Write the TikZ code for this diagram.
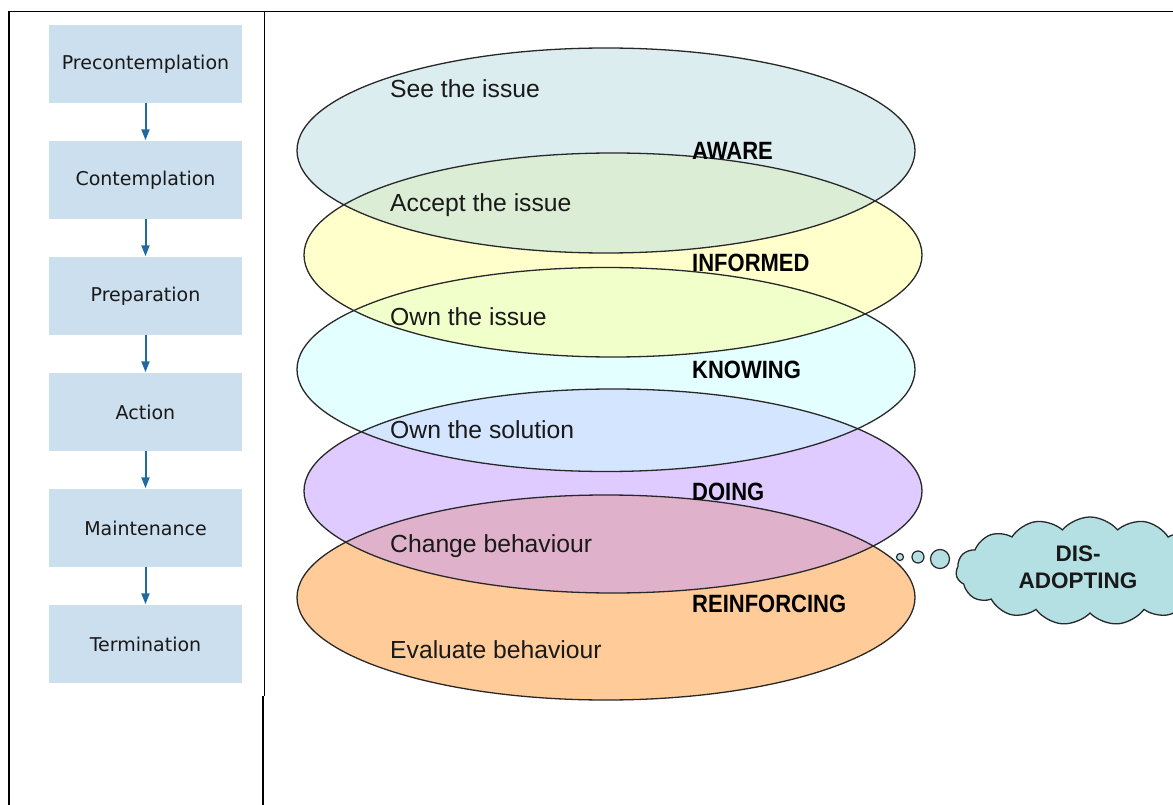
\documentclass[tikz,border=0pt]{standalone}
\usepackage{fontspec}
\setmainfont{Liberation Sans}
\newfontfamily\boxfont{DejaVu Sans}
\newfontfamily\phasefont[FakeStretch=0.88]{Liberation Sans}
\usetikzlibrary{shapes.symbols,arrows.meta}

\definecolor{stagefill}{RGB}{204,223,238}
\definecolor{flowblue}{RGB}{31,106,165}
\definecolor{rimgray}{RGB}{40,40,40}
\definecolor{awarefill}{RGB}{187,221,225}
\definecolor{informedfill}{RGB}{255,255,153}
\definecolor{knowingfill}{RGB}{203,255,255}
\definecolor{doingfill}{RGB}{193,153,255}
\definecolor{reinffill}{RGB}{255,153,51}
\definecolor{cloudfill}{RGB}{180,224,228}
\definecolor{inktext}{RGB}{25,25,25}

\tikzset{
  stagebox/.style={minimum width=193pt, minimum height=78pt, inner sep=0pt,
    fill=stagefill, text=inktext, font=\boxfont\fontsize{19}{22}\selectfont},
  flow/.style={draw=flowblue, line width=2pt,
    -{Triangle[length=11pt,width=8pt]}, shorten >=0.5pt},
  layerfill/.style={fill opacity=0.5},
  layerrim/.style={draw=rimgray, line width=1.3pt},
  steptext/.style={anchor=base west, inner sep=0pt, text=inktext,
    font=\fontsize{24.7}{28}\selectfont},
  phasetext/.style={anchor=base west, inner sep=0pt, text=black,
    font=\phasefont\bfseries\fontsize{25}{28}\selectfont},
  bubble/.style={draw=rimgray, line width=1.2pt, fill=cloudfill},
  frame/.style={draw=black}
}

\begin{document}
\begin{tikzpicture}[x=1pt,y=-1pt]
\useasboundingbox (0,0) rectangle (1173,805);
\fill[white] (0,0) rectangle (1173,805);

\begin{scope}
\clip (0,0) rectangle (1173,805);

% table frame
\draw[frame, line width=1.5pt] (8,11.5) -- (1173,11.5);
\draw[frame, line width=2pt] (9,11.5) -- (9,805);
\draw[frame, line width=1pt] (264.3,11.5) -- (264.3,696);
\draw[frame, line width=2pt] (263.3,696) -- (263.3,805);

% stages of change
\node[stagebox] (pre)  at (145.5,64)  {Precontemplation};
\node[stagebox] (con)  at (145.5,180) {Contemplation};
\node[stagebox] (prep) at (145.5,296) {Preparation};
\node[stagebox] (act)  at (145.5,412) {Action};
\node[stagebox] (main) at (145.5,528) {Maintenance};
\node[stagebox] (term) at (145.5,644) {Termination};

\draw[flow] (pre) -- (con);
\draw[flow] (con) -- (prep);
\draw[flow] (prep) -- (act);
\draw[flow] (act) -- (main);
\draw[flow] (main) -- (term);

% translucent layers, bottom one first
\fill[layerfill, fill=reinffill]    (606,597.5) ellipse [x radius=309pt, y radius=102.5pt];
\fill[layerfill, fill=doingfill]    (613,491)   ellipse [x radius=309pt, y radius=102pt];
\fill[layerfill, fill=knowingfill]  (606,369.5) ellipse [x radius=309pt, y radius=102pt];
\fill[layerfill, fill=informedfill] (613,255)   ellipse [x radius=309pt, y radius=102pt];
\fill[layerfill, fill=awarefill]    (606,150.5) ellipse [x radius=309pt, y radius=102.5pt];

\draw[layerrim] (606,597.5) ellipse [x radius=309pt, y radius=102.5pt];
\draw[layerrim] (613,491)   ellipse [x radius=309pt, y radius=102pt];
\draw[layerrim] (606,369.5) ellipse [x radius=309pt, y radius=102pt];
\draw[layerrim] (613,255)   ellipse [x radius=309pt, y radius=102pt];
\draw[layerrim] (606,150.5) ellipse [x radius=309pt, y radius=102.5pt];

% step texts
\node[steptext] (s1) at (390,98)  {See the issue};
\node[steptext] (s2) at (390,212) {Accept the issue};
\node[steptext] (s3) at (390,325) {Own the issue};
\node[steptext] (s4) at (390,438) {Own the solution};
\node[steptext] (s5) at (390,552) {Change behaviour};
\node[steptext] (s6) at (390,658) {Evaluate behaviour};

% phase names
\node[phasetext] (p1) at (692,160) {AWARE};
\node[phasetext] (p2) at (692,272) {INFORMED};
\node[phasetext] (p3) at (692,378) {KNOWING};
\node[phasetext] (p4) at (692,500) {DOING};
\node[phasetext] (p5) at (692,612) {REINFORCING};

% thought bubble
\draw[bubble] (900,557) circle [radius=3.5pt];
\draw[bubble] (918,557) circle [radius=6pt];
\draw[bubble] (940,559) circle [radius=9.5pt];
\node[cloud, cloud puffs=15, cloud puff arc=100, aspect=2.6,
      minimum width=268pt, minimum height=108pt, inner sep=0pt,
      draw=rimgray, line width=1.3pt, fill=cloudfill] (cloud) at (1090,571) {};
\node[inner sep=0pt, align=center, text=inktext,
      font=\bfseries\fontsize{22.5}{27}\selectfont] (cloudtext) at (1078,567) {DIS-\\ADOPTING};
\end{scope}
\end{tikzpicture}
\end{document}
